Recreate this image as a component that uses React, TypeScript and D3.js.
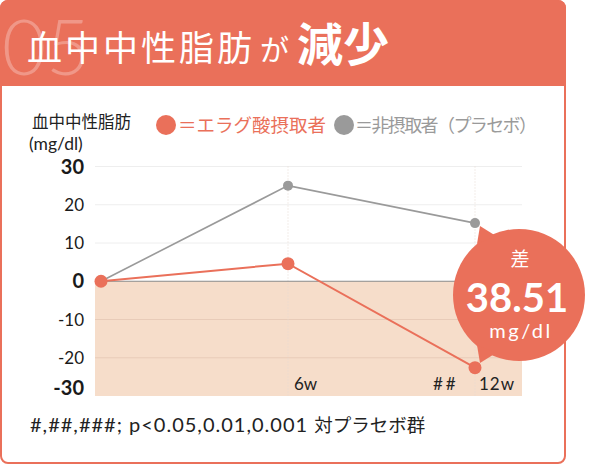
import * as d3 from 'd3';

const weeks = ['0w', '6w', '12w'];
const xLabels = ['', '6w', '12w'];
const ellagic = [0, 4.6, -22.6];
const placebo = [0, 25, 15.2];
const yTicks = [30, 20, 10, 0, -10, -20, -30];
const bigTicks = [30, 0, -30];

const CORAL = '#EA705A';
const GRAY = '#9A9A9A';
const BEIGE = '#F6DDCA';
const JP = '"Noto Sans CJK JP", "Noto Sans", sans-serif';
const NUM = 'Lato, "Noto Sans CJK JP", sans-serif';

export default function App() {
  const width = 590;
  const height = 466;
  const plotLeft = 95;
  const plotRight = 522;

  const x = d3.scalePoint<string>().domain(weeks).range([101, 475]);
  const y = d3.scaleLinear().domain([-30, 30]).range([396, 166.5]);

  const line = d3
    .line<number>()
    .x((_, i) => x(weeks[i]) as number)
    .y(d => y(d));

  return (
    <svg
      width={width}
      height={height}
      style={{ position: 'absolute', left: 0, top: 0, background: '#fff' }}
    >
      {/* frame */}
      <rect x={1} y={1} width={564} height={462} rx={7} fill="#fff" stroke={CORAL} strokeWidth={2} />
      <path d="M0,8 A8,8 0 0 1 8,0 L558,0 A8,8 0 0 1 566,8 L566,86 L0,86 Z" fill={CORAL} />
      <text x={2} y={75} fontFamily={NUM} fontSize={76} fontWeight={300} fill="#fff" fillOpacity={0.28}>
        05
      </text>
      <text y={61} fontFamily={JP} fill="#fff">
        <tspan x={27} fontSize={35} letterSpacing={3}>血中中性脂肪</tspan>
        <tspan fontSize={29} dx={5}>が</tspan>
        <tspan fontSize={46} fontWeight={700} dx={8}>減少</tspan>
      </text>

      {/* y title + legend */}
      <text x={32} y={128} fontFamily={JP} fontSize={16.5} fill="#222">血中中性脂肪</text>
      <text x={29} y={150} fontFamily={NUM} fontSize={17.5} fill="#222">(mg/dl)</text>
      <circle cx={166} cy={125} r={10} fill={CORAL} />
      <text x={178} y={132} fontFamily={JP} fontSize={18.5} fill={CORAL}>＝エラグ酸摂取者</text>
      <circle cx={344} cy={125} r={10} fill={GRAY} />
      <text x={355} y={132} fontFamily={JP} fontSize={18} letterSpacing={-1.6} fill={GRAY}>＝非摂取者（プラセボ）</text>

      {/* negative area */}
      <rect x={plotLeft} y={y(0)} width={plotRight - plotLeft} height={y(-30) - y(0)} fill={BEIGE} />

      {/* gridlines */}
      {yTicks
        .filter(t => t !== 0 && t !== -30)
        .map(t => (
          <line
            key={t}
            x1={plotLeft}
            x2={plotRight}
            y1={y(t)}
            y2={y(t)}
            stroke={t > 0 ? '#EEEEEE' : '#E8CBB8'}
            strokeWidth={1}
          />
        ))}
      {weeks.slice(1).map(w => (
        <line
          key={w}
          x1={x(w)}
          x2={x(w)}
          y1={y(30)}
          y2={y(-30)}
          stroke={'#E6DAD2'}
          strokeWidth={1}
          strokeDasharray="1,2"
        />
      ))}
      <line x1={plotLeft} x2={plotRight} y1={y(0)} y2={y(0)} stroke="#8A8A8A" strokeWidth={1.2} />

      {/* y tick labels */}
      {yTicks.map(t => {
        const big = bigTicks.includes(t);
        return (
          <text
            key={t}
            x={84}
            y={t === -30 ? y(t) - 1 : y(t) + (big ? 7 : 6)}
            textAnchor="end"
            fontFamily={NUM}
            fontSize={big ? 20 : 17}
            fontWeight={big ? 700 : 400}
            fill="#1a1a1a"
          >
            {t}
          </text>
        );
      })}

      {/* x labels */}
      {xLabels.map((l, i) =>
        l ? (
          <text
            key={l}
            x={(x(weeks[i]) as number) + (i === 2 ? 4 : 6)}
            y={390}
            fontFamily={NUM}
            fontSize={17}
            letterSpacing={i === 2 ? 1 : 0}
            fill="#222"
          >
            {l}
          </text>
        ) : null
      )}
      <text x={433} y={390} fontFamily={NUM} fontSize={17} letterSpacing={3} fill="#222">##</text>

      {/* series */}
      <path d={line(placebo) ?? ''} fill="none" stroke={GRAY} strokeWidth={1.6} />
      {placebo.map((v, i) => (
        <circle key={i} cx={x(weeks[i])} cy={y(v)} r={5} fill={GRAY} />
      ))}
      <path d={line(ellagic) ?? ''} fill="none" stroke={CORAL} strokeWidth={2} />
      {ellagic.map((v, i) => (
        <circle key={i} cx={x(weeks[i])} cy={y(v)} r={6.5} fill={CORAL} />
      ))}

      {/* difference bubble */}
      <g fill={CORAL}>
        <circle cx={519} cy={295} r={66} />
        <polygon points="480,226 477,244 496,236" />
        <polygon points="480,363 477,345 496,353" />
      </g>
      <text x={520} y={266} textAnchor="middle" fontFamily={JP} fontSize={19} fill="#fff">差</text>
      <text x={517} y={312} textAnchor="middle" fontFamily={NUM} fontSize={40} fontWeight={700} fill="#fff">
        38.51
      </text>
      <text x={521} y={338} textAnchor="middle" fontFamily={NUM} fontSize={20} letterSpacing={2.5} fill="#fff">
        mg/dl
      </text>

      {/* footnote */}
      <text x={30} y={432} fontFamily={NUM} fontSize={20} letterSpacing={1} fill="#222">
        #,##,###; p&lt;0.05,0.01,0.001{' '}
        <tspan fontFamily={JP} fontSize={18.5} letterSpacing={0}>対プラセボ群</tspan>
      </text>
    </svg>
  );
}
